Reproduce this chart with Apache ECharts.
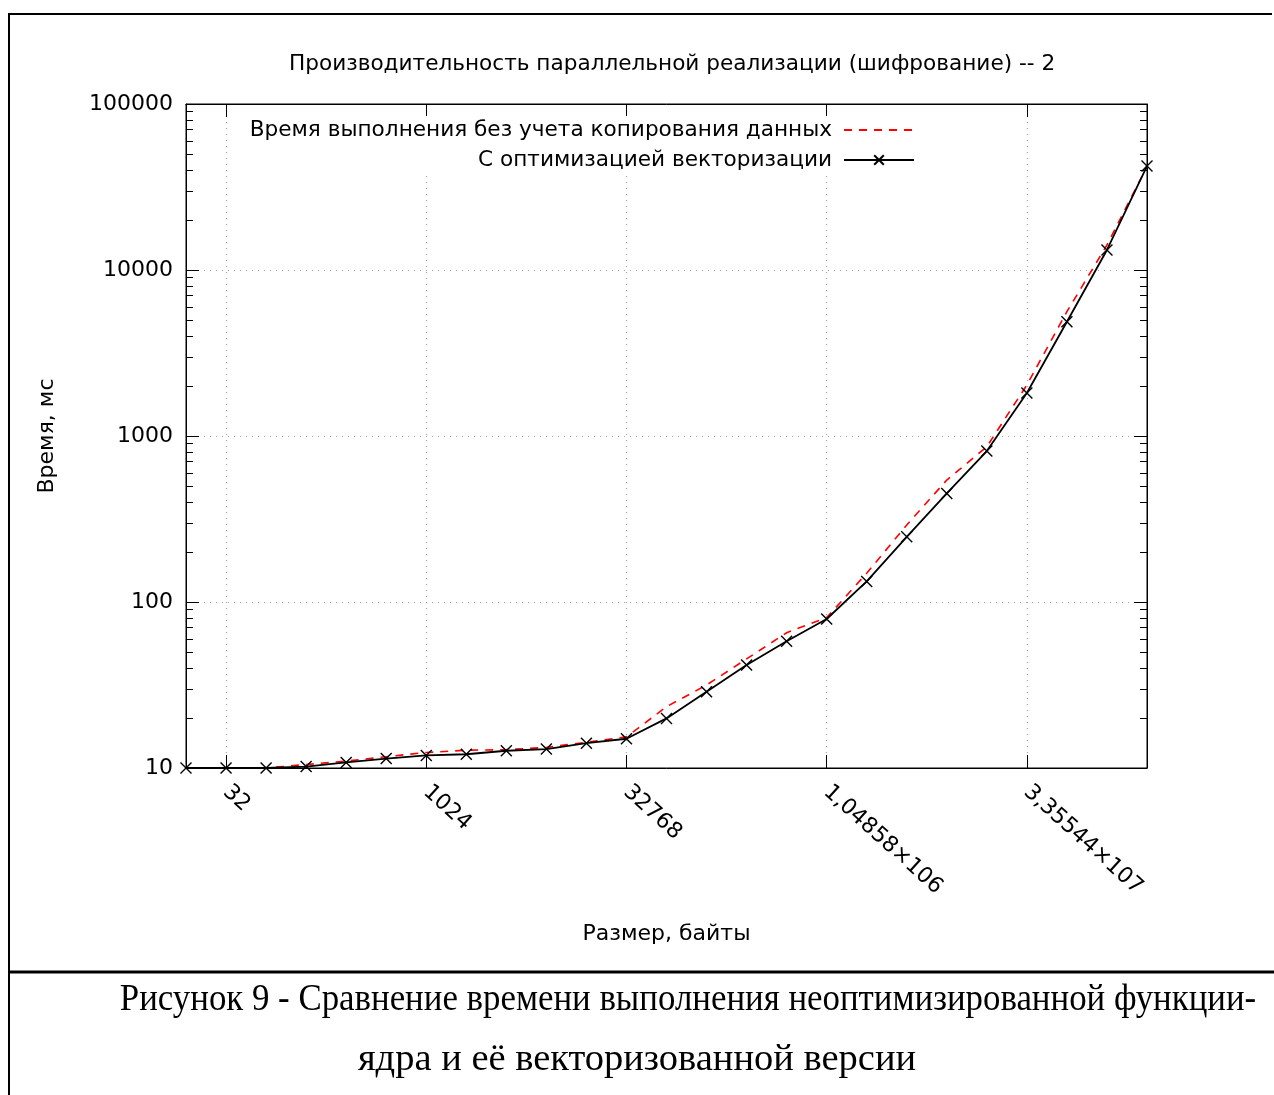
<!DOCTYPE html>
<html>
<head>
<meta charset="utf-8">
<script src="https://cdn.jsdelivr.net/npm/echarts@6/dist/echarts.min.js"></script>
<style>
  html, body { margin: 0; padding: 0; background: #ffffff; }
  #chart { width: 1274px; height: 1095px; }
</style>
</head>
<body>
<div id="chart"></div>
<script>
// Block sizes, bytes (powers of two from 16 B to 256 MiB)
const sizes = [16, 32, 64, 128, 256, 512, 1024, 2048, 4096, 8192, 16384, 32768,
  65536, 131072, 262144, 524288, 1048576, 2097152, 4194304, 8388608,
  16777216, 33554432, 67108864, 134217728, 268435456];

// Execution time, ms
const timeNoCopy = [10, 10, 10, 10.5, 11.0, 11.7, 12.4, 12.8, 12.9, 13.3, 14.3, 15.4,
  23.4, 31.6, 45.4, 65.3, 80.5, 149, 291, 543, 862, 2030, 5610, 14150, 42000];
const timeVectorized = [10, 10, 10, 10.2, 10.8, 11.4, 11.9, 12.1, 12.7, 13.0, 14.1, 15.0,
  19.9, 28.8, 41.7, 58.0, 79, 133, 247, 451, 812, 1815, 4880, 13200, 42300];

const seriesNames = ['Время выполнения без учета копирования данных', 'С оптимизацией векторизации'];

const xTickValues = [32, 1024, 32768, 1048576, 33554432];
const xTickLabels = ['32', '1024', '32768', '1,04858×106', '3,35544×107'];
const yTickValues = [10, 100, 1000, 10000, 100000];
const yTickLabels = ['10', '100', '1000', '10000', '100000'];
const yMinorValues = [20, 30, 40, 50, 60, 70, 80, 90,
  200, 300, 400, 500, 600, 700, 800, 900,
  2000, 3000, 4000, 5000, 6000, 7000, 8000, 9000,
  20000, 30000, 40000, 50000, 60000, 70000, 80000, 90000];

const titleText = 'Производительность параллельной реализации (шифрование) -- 2';
const xAxisName = 'Размер, байты';
const yAxisName = 'Время, мс';
const captionLines = [
  'Рисунок 9 - Сравнение времени выполнения неоптимизированной функции-',
  'ядра и её векторизованной версии'
];

const FONT = 'DejaVu Sans';
const FS = 22;       // tick labels and axis names
const FS_TEXT = 21.6; // title and key

function pairs(ys) { return sizes.map((s, i) => [s, ys[i]]); }

const xLabelMap = {};
xTickValues.forEach((v, i) => { xLabelMap[v] = xTickLabels[i]; });
const yLabelMap = {};
yTickValues.forEach((v, i) => { yLabelMap[v] = yTickLabels[i]; });

const gridLine = { show: true, lineStyle: { color: '#a6a6a6', width: 1.2, type: [1, 5] } };
const xBase = { type: 'log', logBase: 2, min: sizes[0], max: sizes[sizes.length - 1], gridIndex: 0 };
const yBase = { type: 'log', logBase: 10, min: yTickValues[0], max: yTickValues[yTickValues.length - 1], gridIndex: 0 };

const chart = echarts.init(document.getElementById('chart'), null, { renderer: 'canvas' });

chart.setOption({
  backgroundColor: '#ffffff',
  animation: false,
  title: {
    text: titleText,
    left: 284,
    top: 48,
    textStyle: { fontFamily: FONT, fontSize: FS_TEXT, fontWeight: 'normal', color: '#000' }
  },
  grid: { left: 186, right: 127, top: 104, bottom: 327, containLabel: false,
          show: true, borderColor: '#000', borderWidth: 1 },
  legend: {
    orient: 'vertical',
    align: 'right',
    right: 355,
    top: 116,
    itemWidth: 70,
    itemHeight: 12,
    itemGap: 8,
    padding: [3, 4, 3, 4],
    backgroundColor: '#ffffff',
    textStyle: { fontFamily: FONT, fontSize: FS_TEXT, color: '#000', padding: [0, 7, 0, 0] },
    data: [
      { name: seriesNames[0], itemStyle: { opacity: 0 } },
      { name: seriesNames[1] }
    ]
  },
  xAxis: [
    Object.assign({}, xBase, {
      position: 'bottom',
      name: xAxisName,
      nameLocation: 'middle',
      nameGap: 155,
      nameTextStyle: { fontFamily: FONT, fontSize: FS, color: '#000' },
      axisLine: { show: true, lineStyle: { color: '#000', width: 1 } },
      axisTick: { show: true, inside: true, length: 13, customValues: xTickValues,
                  lineStyle: { color: '#000', width: 1 } },
      axisLabel: { show: true, customValues: xTickValues, rotate: -42, margin: 21,
                   fontFamily: FONT, fontSize: FS, color: '#000',
                   formatter: v => xLabelMap[v] !== undefined ? xLabelMap[v] : '' },
      splitLine: gridLine
    }),
    Object.assign({}, xBase, {
      position: 'top',
      axisLine: { show: true, lineStyle: { color: '#000', width: 1 } },
      axisTick: { show: true, inside: true, length: 13, customValues: xTickValues,
                  lineStyle: { color: '#000', width: 1 } },
      axisLabel: { show: false },
      splitLine: { show: false }
    })
  ],
  yAxis: [
    Object.assign({}, yBase, {
      position: 'left',
      name: yAxisName,
      nameLocation: 'middle',
      nameGap: 128,
      nameTextStyle: { fontFamily: FONT, fontSize: FS, color: '#000' },
      axisLine: { show: true, lineStyle: { color: '#000', width: 1 } },
      axisTick: { show: true, inside: true, length: 13, customValues: yTickValues,
                  lineStyle: { color: '#000', width: 1 } },
      axisLabel: { show: true, customValues: yTickValues, margin: 13,
                   fontFamily: FONT, fontSize: FS, color: '#000',
                   formatter: v => yLabelMap[v] !== undefined ? yLabelMap[v] : '' },
      splitLine: gridLine
    }),
    Object.assign({}, yBase, {
      position: 'left',
      axisLine: { show: false },
      axisTick: { show: true, inside: true, length: 7, customValues: yMinorValues,
                  lineStyle: { color: '#000', width: 1 } },
      axisLabel: { show: false },
      splitLine: { show: false }
    }),
    Object.assign({}, yBase, {
      position: 'right',
      axisLine: { show: true, lineStyle: { color: '#000', width: 1 } },
      axisTick: { show: true, inside: true, length: 13, customValues: yTickValues,
                  lineStyle: { color: '#000', width: 1 } },
      axisLabel: { show: false },
      splitLine: { show: false }
    }),
    Object.assign({}, yBase, {
      position: 'right',
      axisLine: { show: false },
      axisTick: { show: true, inside: true, length: 7, customValues: yMinorValues,
                  lineStyle: { color: '#000', width: 1 } },
      axisLabel: { show: false },
      splitLine: { show: false }
    })
  ],
  series: [
    {
      name: seriesNames[0],
      type: 'line',
      data: pairs(timeNoCopy),
      showSymbol: false,
      symbol: 'none',
      lineStyle: { color: '#ff0000', width: 1.6, type: [8, 7] },
      itemStyle: { color: '#ff0000' },
      z: 2
    },
    {
      name: seriesNames[1],
      type: 'line',
      data: pairs(timeVectorized),
      symbol: 'path://M0,0L10,10M10,0L0,10',
      symbolSize: 11,
      lineStyle: { color: '#000', width: 1.8 },
      itemStyle: { color: 'rgba(0,0,0,0)', borderColor: '#000', borderWidth: 1.4 },
      z: 3
    }
  ],
  graphic: [
    { type: 'line', shape: { x1: 8, y1: 14, x2: 1272, y2: 14 }, style: { stroke: '#000', lineWidth: 2 } },
    { type: 'line', shape: { x1: 9, y1: 14, x2: 9, y2: 1095 }, style: { stroke: '#000', lineWidth: 2 } },
    { type: 'line', shape: { x1: 8, y1: 972, x2: 1274, y2: 972 }, style: { stroke: '#000', lineWidth: 3 } },
    { type: 'text', x: 688, y: 1000, scaleX: 0.905,
      style: { text: captionLines[0], fontFamily: 'Liberation Serif', fontSize: 38.5, fill: '#000',
               align: 'center', verticalAlign: 'middle' } },
    { type: 'text', x: 637, y: 1060,
      style: { text: captionLines[1], fontFamily: 'Liberation Serif', fontSize: 38.5, fill: '#000',
               align: 'center', verticalAlign: 'middle' } }
  ]
});
</script>
</body>
</html>
